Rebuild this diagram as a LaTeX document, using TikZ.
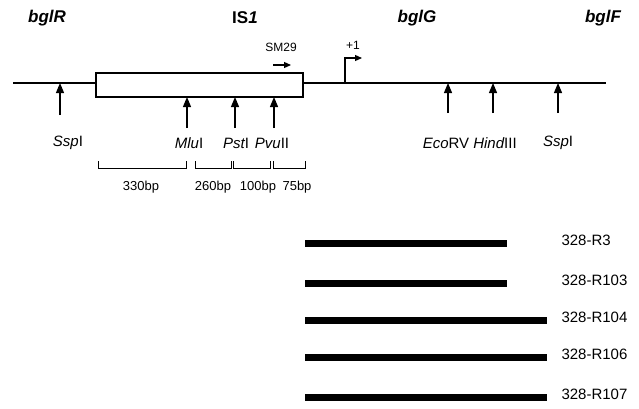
\documentclass[tikz,border=0pt]{standalone}
\usepackage{fontspec}
\setmainfont{Liberation Sans}
\usetikzlibrary{arrows.meta}
\tikzset{
  dna/.style={line width=1.2pt},
  insbox/.style={draw,line width=1.2pt,fill=white},
  site/.style={-{Triangle[length=10pt,width=8pt]},line width=1.2pt},
  promo/.style={-{Triangle[length=7pt,width=6pt]},line width=1.2pt},
  brack/.style={line width=0.9pt},
  clone/.style={line width=7pt},
  gene/.style={font=\fontsize{17}{19}\selectfont\bfseries\itshape},
  enz/.style={font=\fontsize{15}{17}\selectfont},
  small/.style={font=\fontsize{12}{14}\selectfont},
  bp/.style={font=\fontsize{13}{15}\selectfont},
  clname/.style={font=\fontsize{15}{17}\selectfont,anchor=west}
}

\begin{document}
\begin{tikzpicture}[x=1pt,y=-1pt]
\useasboundingbox (0,0) rectangle (639,408);
% gene names
\node[gene] (bglR) at (47,18) {bglR};
\node[gene] (IS1) at (245,18) {\upshape IS\itshape1};
\node[gene] (bglG) at (417,18) {bglG};
\node[gene] (bglF) at (603,18) {bglF};
% chromosome line and IS1
\coordinate (L) at (13,83);
\coordinate (R) at (606,83);
\draw[dna] (L) -- (R);
\draw[insbox] (96,73) rectangle (303,97);
% primer and promoter
\node[small] (SM29) at (281,47) {SM29};
\coordinate (sma) at (273,65);
\coordinate (smb) at (291,65);
\draw[promo] (sma) -- (smb);
\coordinate (p0) at (345,83);
\coordinate (p1) at (362,58);
\draw[promo] (p0) |- (p1);
\node[small] (plus1) at (353,45) {+1};
% restriction sites
\coordinate (ssp1) at (60,83);   \coordinate (ssp1b) at (60,115);
\coordinate (mlu) at (187,97);   \coordinate (mlub) at (187,128);
\coordinate (pst) at (235,97);   \coordinate (pstb) at (235,128);
\coordinate (pvu) at (274,97);   \coordinate (pvub) at (274,128);
\coordinate (eco) at (448,83);   \coordinate (ecob) at (448,113);
\coordinate (hin) at (493,83);   \coordinate (hinb) at (493,113);
\coordinate (ssp2) at (558,83);  \coordinate (ssp2b) at (558,113);
\draw[site] (ssp1b) -- (ssp1);
\draw[site] (mlub) -- (mlu);
\draw[site] (pstb) -- (pst);
\draw[site] (pvub) -- (pvu);
\draw[site] (ecob) -- (eco);
\draw[site] (hinb) -- (hin);
\draw[site] (ssp2b) -- (ssp2);
\node[enz] (tssp1) at (68,143) {\itshape Ssp\upshape I};
\node[enz] (tmlu) at (189,143) {\itshape Mlu\upshape I};
\node[enz] (tpst) at (236,143) {\itshape Pst\upshape I};
\node[enz] (tpvu) at (272,143) {\itshape Pvu\upshape II};
\node[enz] (teco) at (446,143) {\itshape Eco\upshape RV};
\node[enz] (thin) at (495,143) {\itshape Hind\upshape III};
\node[enz] (tssp2) at (558,143) {\itshape Ssp\upshape I};
% fragment sizes
\draw[brack] (98,161) |- (186,168) -- (186,161);
\draw[brack] (195,161) |- (231,168) -- (231,161);
\draw[brack] (233,161) |- (270,168) -- (270,161);
\draw[brack] (273,161) |- (305,168) -- (305,161);
\node[bp] (f330) at (141,187) {330bp};
\node[bp] (f260) at (213,187) {260bp};
\node[bp] (f100) at (258,187) {100bp};
\node[bp] (f75) at (297,187) {75bp};
% clones
\foreach \y/\e/\n in {243/507/R3,283/507/R103,320/547/R104,357/547/R106,397/547/R107}{
  \coordinate (a\n) at (305,\y);
  \coordinate (b\n) at (\e,\y);
  \draw[clone] (a\n) -- (b\n);
  \node[clname] (c\n) at (558,\y-3) {328-\n};
}
\end{tikzpicture}
\end{document}
